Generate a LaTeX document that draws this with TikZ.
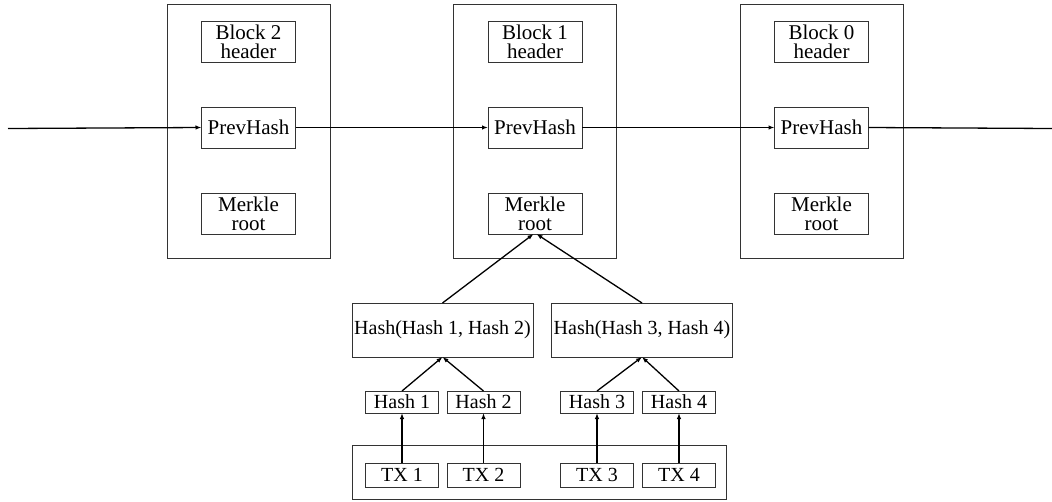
\documentclass[tikz,border=0pt]{standalone}
\usepackage{fontspec}
\setmainfont{Liberation Serif}
\usetikzlibrary{arrows.meta}
\begin{document}
\begin{tikzpicture}[x=1pt,y=-1pt,
  box/.style={draw=black!80,line width=0.9pt,inner sep=0pt,outer sep=0pt,align=center,
    font=\fontsize{20}{20}\selectfont},
  blockbox/.style={box,minimum width=163pt,minimum height=254pt},
  inbox/.style={box,minimum width=94pt,minimum height=41pt,font=\fontsize{21}{20}\selectfont},
  hashbox/.style={box,minimum width=181pt,minimum height=54pt},
  smallbox/.style={box,minimum width=73pt,minimum height=22pt},
  arr/.style={line width=1.3pt,-{Latex[length=6pt,width=4.5pt]}},
  chain/.style={line width=1.3pt}]
\useasboundingbox (0,0) rectangle (1052,501);
% blocks
\foreach \n/\c in {2/248.5,1/535,0/821.5}{
  \node[blockbox] (b\n) at (\c,131) {};
  \node[inbox] (h\n) at (\c,42) {Block \n\\[-1pt]header};
  \node[inbox] (p\n) at (\c,127.5) {PrevHash};
  \node[inbox] (m\n) at (\c,213.5) {Merkle\\[-1pt]root};
}
% chain
\coordinate (cl) at (8,128.5);
\coordinate (cr) at (1052,128.5);
\draw[arr] (cl) -- (p2.west);
\draw[arr] (p2.east) -- (p1.west);
\draw[arr] (p1.east) -- (p0.west);
\draw[chain] (p0.east) -- (cr);
% merkle tree
\node[hashbox] (ha) at (442.5,330) {Hash(Hash 1, Hash 2)};
\node[hashbox] (hb) at (642,330) {Hash(Hash 3, Hash 4)};
\node[smallbox] (s1) at (402,402) {Hash 1};
\node[smallbox] (s2) at (483.5,402) {Hash 2};
\node[smallbox] (s3) at (597,402) {Hash 3};
\node[smallbox] (s4) at (679,402) {Hash 4};
\node[box,minimum width=374pt,minimum height=54pt] (txb) at (539,472) {};
\node[smallbox,minimum height=24pt] (t1) at (402,475) {TX 1};
\node[smallbox,minimum height=24pt] (t2) at (483.5,475) {TX 2};
\node[smallbox,minimum height=24pt] (t3) at (597,475) {TX 3};
\node[smallbox,minimum height=24pt] (t4) at (679,475) {TX 4};
\foreach \i in {1,2,3,4}{\draw[arr] (t\i.north) -- (s\i.south);}
\draw[arr] (s1.north) -- (ha.south);
\draw[arr] (s2.north) -- (ha.south);
\draw[arr] (s3.north) -- (hb.south);
\draw[arr] (s4.north) -- (hb.south);
\draw[arr] (ha.north) -- ([xshift=-1.5pt]m1.south);
\draw[arr] (hb.north) -- ([xshift=1.5pt]m1.south);
\end{tikzpicture}
\end{document}
